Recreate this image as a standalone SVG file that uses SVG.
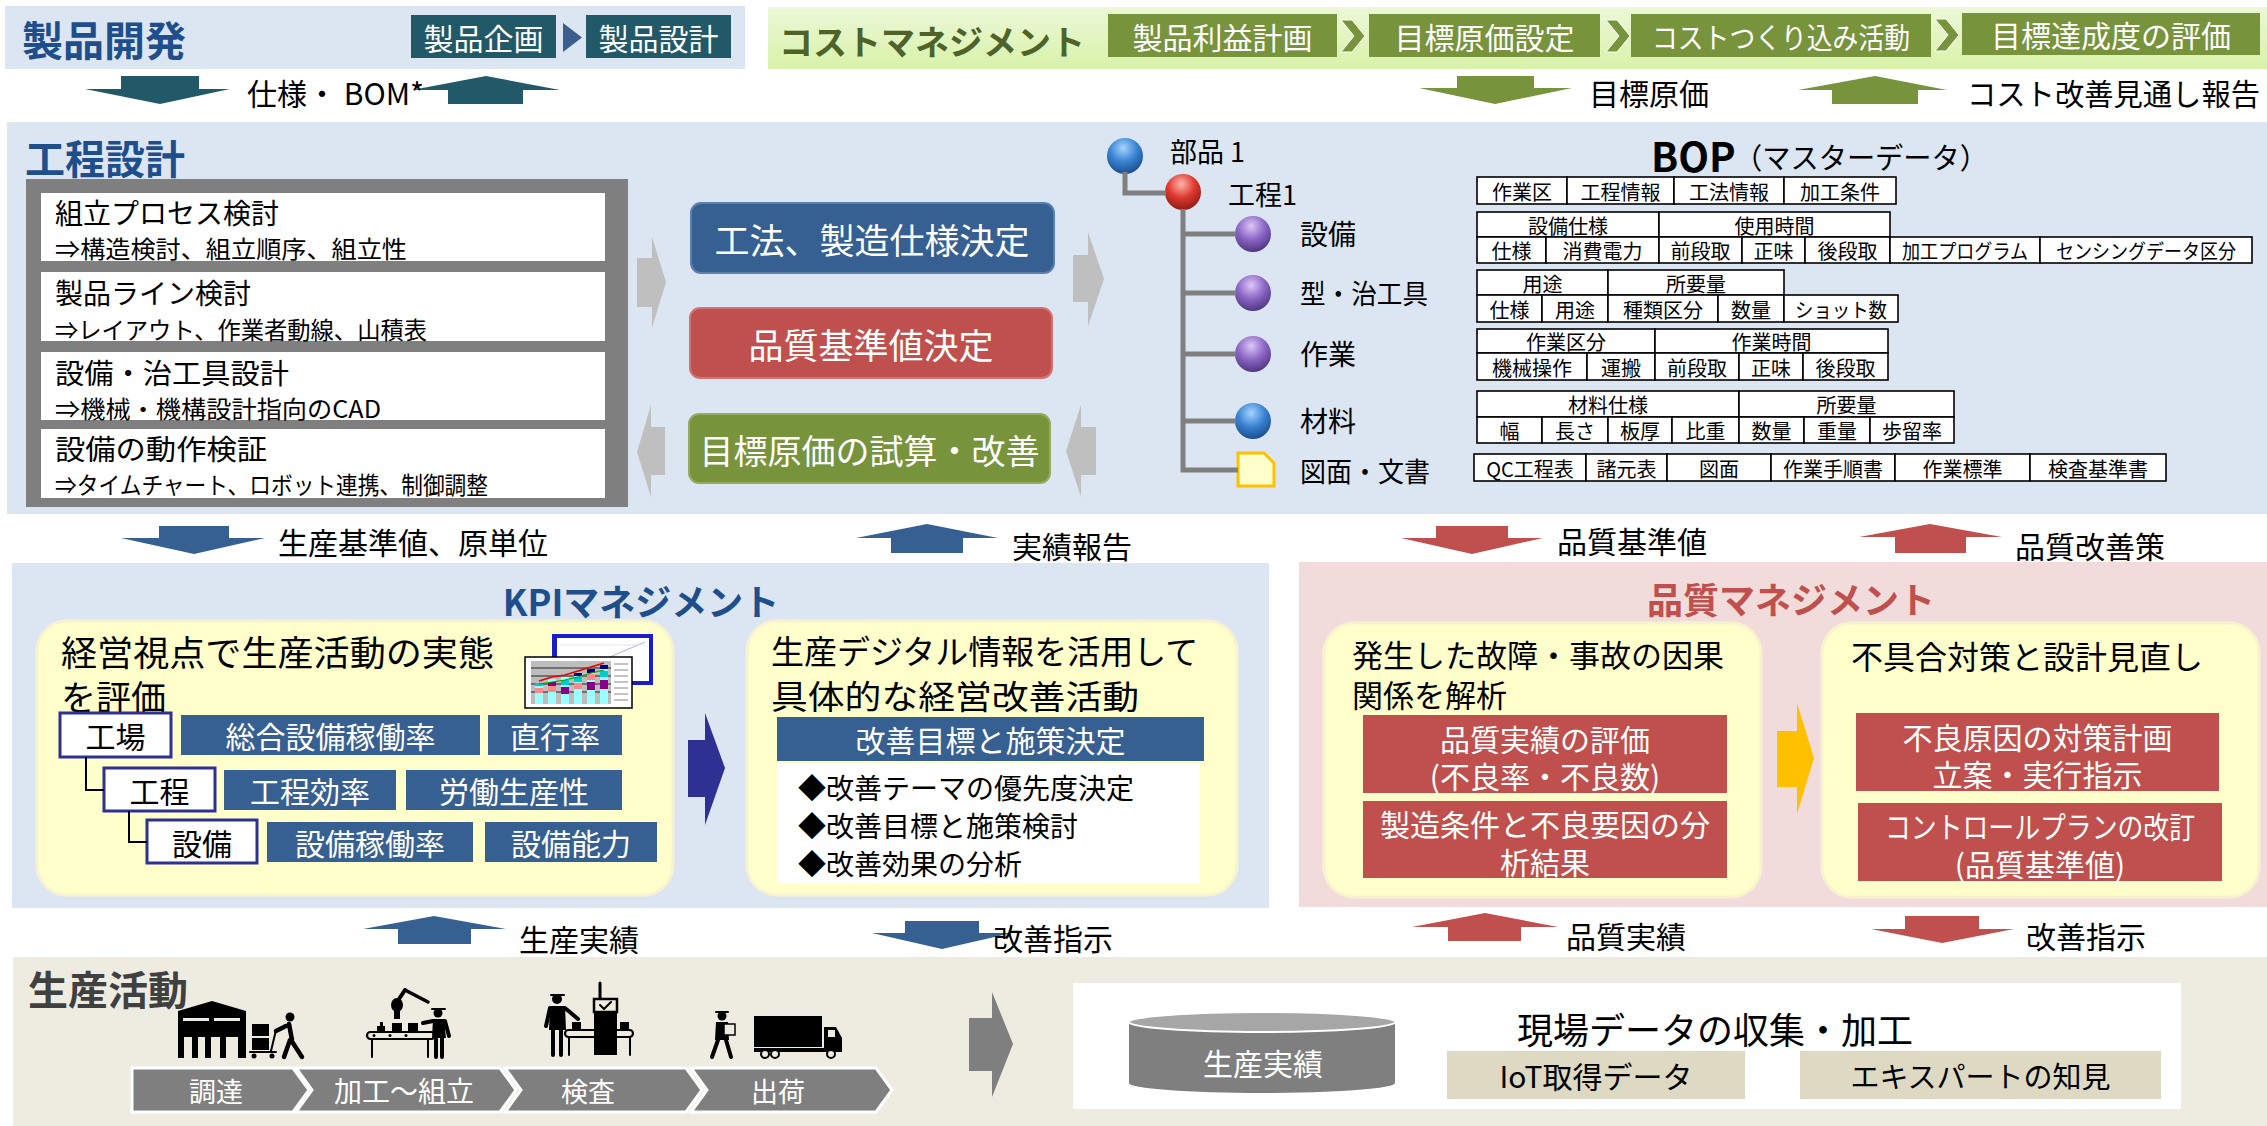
<svg xmlns="http://www.w3.org/2000/svg" width="2267" height="1126" viewBox="0 0 2267 1126">
  <defs>
    <style>
      text { font-family: "Noto Sans CJK JP", "Noto Sans", sans-serif; dominant-baseline: central; fill: #000; }
      .w { fill: #fff; }
      .mid { text-anchor: middle; }
      .b { font-weight: bold; }
      .band-blue { fill: #DCE6F2; }
      .teal { fill: #215968; }
      .blue { fill: #376092; }
      .red { fill: #C0504D; }
      .green { fill: #77933C; }
      .gray { fill: #7F7F7F; }
      .lgray { fill: #BFBFBF; }
      .yel { fill: #FFFFCC; stroke: #F7F3D0; stroke-width: 3; }
      .cell { fill: #fff; stroke: #000; stroke-width: 1.6; }
      .ct { font-size: 20px; text-anchor: middle; }
      .tree { fill: none; stroke: #7F7F7F; stroke-width: 5; }
      .hier { fill: none; stroke: #000; stroke-width: 2; }
      .lvl { fill: #fff; stroke: #2E3192; stroke-width: 3; }
      .ink { fill: #000; }
      .inks { fill: none; stroke: #000; stroke-linecap: round; stroke-linejoin: round; }
    </style>
    <linearGradient id="costGrad" x1="0" y1="0" x2="0" y2="1">
      <stop offset="0" stop-color="#ECF8D8"/>
      <stop offset="1" stop-color="#D8F2A8"/>
    </linearGradient>
    <radialGradient id="sBlue" cx="0.45" cy="0.28" r="0.75">
      <stop offset="0" stop-color="#A6D4FF"/>
      <stop offset="0.5" stop-color="#3A84D4"/>
      <stop offset="1" stop-color="#1A4A88"/>
    </radialGradient>
    <radialGradient id="sRed" cx="0.45" cy="0.28" r="0.75">
      <stop offset="0" stop-color="#FFB4AC"/>
      <stop offset="0.5" stop-color="#DE3A30"/>
      <stop offset="1" stop-color="#8A1913"/>
    </radialGradient>
    <radialGradient id="sPurple" cx="0.45" cy="0.28" r="0.75">
      <stop offset="0" stop-color="#DCC6F7"/>
      <stop offset="0.5" stop-color="#8C68C6"/>
      <stop offset="1" stop-color="#4C327C"/>
    </radialGradient>
  </defs>

  <rect width="2267" height="1126" fill="#fff"/>

  <!-- ===== 製品開発 ===== -->
  <g id="product-dev">
    <rect x="5" y="6" width="740" height="63" class="band-blue"/>
    <text x="22" y="38" font-size="41" class="b" style="fill:#1F4E8C">製品開発</text>
    <rect x="411" y="15" width="145" height="43" class="teal"/>
    <text x="483.5" y="37" font-size="30" class="w mid">製品企画</text>
    <polygon points="563,23 582,37.5 563,52" fill="#3A5F8E"/>
    <rect x="586" y="15" width="145" height="43" class="teal"/>
    <text x="658.5" y="37" font-size="30" class="w mid">製品設計</text>
  </g>

  <!-- ===== コストマネジメント ===== -->
  <g id="cost-mgmt">
    <rect x="768" y="7" width="1499" height="62" fill="url(#costGrad)"/>
    <text x="779" y="40" font-size="34" class="b" style="fill:#4F6228">コストマネジメント</text>
    <rect x="1108" y="14" width="229" height="43" class="green"/>
    <text x="1222.5" y="36" font-size="30" class="w mid">製品利益計画</text>
    <path d="M1341,20 L1352,20 L1365,36 L1352,52 L1341,52 L1354,36 Z" class="green" stroke="#fff" stroke-width="1"/>
    <rect x="1369" y="14" width="231" height="43" class="green"/>
    <text x="1484.5" y="36" font-size="30" class="w mid">目標原価設定</text>
    <path d="M1606,20 L1617,20 L1630,36 L1617,52 L1606,52 L1619,36 Z" class="green" stroke="#fff" stroke-width="1"/>
    <rect x="1631" y="14" width="300" height="43" class="green"/>
    <text x="1781" y="36" font-size="29" class="w mid" textLength="258" lengthAdjust="spacingAndGlyphs">コストつくり込み活動</text>
    <path d="M1935,19 L1946,19 L1959,35 L1946,51 L1935,51 L1948,35 Z" class="green" stroke="#fff" stroke-width="1"/>
    <rect x="1962" y="13" width="298" height="42" class="green"/>
    <text x="2111" y="34" font-size="30" class="w mid">目標達成度の評価</text>
  </g>

  <!-- ===== 工程設計 ===== -->
  <g id="process-design">
    <rect x="7" y="122" width="2260" height="392" class="band-blue"/>
    <text x="25" y="157" font-size="40" class="b" style="fill:#1F4E8C">工程設計</text>
    <rect x="26" y="179" width="602" height="328" class="gray"/>

    <g id="pd-assembly">
      <rect x="41" y="193" width="564" height="68" fill="#fff"/>
      <text x="55" y="212" font-size="28">組立プロセス検討</text>
      <text x="55" y="247" font-size="24" textLength="352" lengthAdjust="spacingAndGlyphs">⇒構造検討、組立順序、組立性</text>
    </g>
    <g id="pd-line">
      <rect x="41" y="272" width="564" height="69" fill="#fff"/>
      <text x="55" y="292" font-size="28">製品ライン検討</text>
      <text x="55" y="328" font-size="24" textLength="372" lengthAdjust="spacingAndGlyphs">⇒レイアウト、作業者動線、山積表</text>
    </g>
    <g id="pd-equipment">
      <rect x="41" y="352" width="564" height="68" fill="#fff"/>
      <text x="55" y="372" font-size="28" textLength="234" lengthAdjust="spacingAndGlyphs">設備・治工具設計</text>
      <text x="55" y="407" font-size="24" textLength="326" lengthAdjust="spacingAndGlyphs">⇒機械・機構設計指向のCAD</text>
    </g>
    <g id="pd-verify">
      <rect x="41" y="429" width="564" height="69" fill="#fff"/>
      <text x="55" y="448" font-size="28" textLength="212" lengthAdjust="spacingAndGlyphs">設備の動作検証</text>
      <text x="55" y="483" font-size="24" textLength="433" lengthAdjust="spacingAndGlyphs">⇒タイムチャート、ロボット連携、制御調整</text>
    </g>

    <g id="decide-method">
      <rect x="691" y="203" width="363" height="70" rx="10" class="blue" stroke="#5B7FAE" stroke-width="2"/>
      <text x="872" y="238" font-size="35" class="w mid">工法、製造仕様決定</text>
    </g>
    <g id="decide-quality">
      <rect x="690" y="308" width="362" height="70" rx="10" class="red" stroke="#D27572" stroke-width="2"/>
      <text x="871" y="343" font-size="35" class="w mid">品質基準値決定</text>
    </g>
    <g id="target-cost">
      <rect x="689" y="414" width="361" height="69" rx="10" class="green" stroke="#93AC60" stroke-width="2"/>
      <text x="869.5" y="449" font-size="34" class="w mid">目標原価の試算・改善</text>
    </g>
  </g>

  <!-- ===== BOP ===== -->
  <g id="bop">
    <text x="1651" y="155" font-size="40" class="b">BOP</text>
    <text x="1734" y="156" font-size="29" textLength="254" lengthAdjust="spacingAndGlyphs">（マスターデータ）</text>

    <g id="bop-part">
      <circle cx="1125" cy="156" r="18" fill="url(#sBlue)"/>
      <text x="1170" y="150" font-size="27">部品 1</text>
    </g>
    <g id="bop-process">
      <circle cx="1183" cy="192" r="18" fill="url(#sRed)"/>
      <text x="1228" y="193" font-size="27">工程1</text>
    </g>
    <g id="bop-equip">
      <circle cx="1253" cy="234" r="18" fill="url(#sPurple)"/>
      <text x="1300" y="233" font-size="28">設備</text>
    </g>
    <g id="bop-tool">
      <circle cx="1253" cy="293" r="18" fill="url(#sPurple)"/>
      <text x="1300" y="292" font-size="27" textLength="128" lengthAdjust="spacingAndGlyphs">型・治工具</text>
    </g>
    <g id="bop-work">
      <circle cx="1253" cy="354" r="18" fill="url(#sPurple)"/>
      <text x="1300" y="353" font-size="28">作業</text>
    </g>
    <g id="bop-material">
      <circle cx="1253" cy="421" r="18" fill="url(#sBlue)"/>
      <text x="1300" y="420" font-size="28">材料</text>
    </g>
    <g id="bop-docs">
      <path d="M1238,453 H1264 L1274,463 V486 H1238 Z" fill="#FFFFCC" stroke="#FFC000" stroke-width="3"/>
      <text x="1300" y="470" font-size="27" textLength="130" lengthAdjust="spacingAndGlyphs">図面・文書</text>
    </g>

    <!-- table: process attributes -->
    <g id="tbl-process">
      <rect x="1477" y="177" width="90" height="27" class="cell"/>
      <rect x="1567" y="177" width="107" height="27" class="cell"/>
      <rect x="1674" y="177" width="110" height="27" class="cell"/>
      <rect x="1784" y="177" width="112" height="27" class="cell"/>
      <text x="1522" y="191" class="ct">作業区</text>
      <text x="1620.5" y="191" class="ct">工程情報</text>
      <text x="1729" y="191" class="ct">工法情報</text>
      <text x="1840" y="191" class="ct">加工条件</text>
    </g>

    <!-- table: equipment -->
    <g id="tbl-equip">
      <rect x="1477" y="212" width="182" height="25" class="cell"/>
      <rect x="1659" y="212" width="231" height="25" class="cell"/>
      <text x="1568" y="225" class="ct">設備仕様</text>
      <text x="1774.5" y="225" class="ct">使用時間</text>
      <rect x="1477" y="237" width="69" height="26" class="cell"/>
      <rect x="1546" y="237" width="113" height="26" class="cell"/>
      <rect x="1659" y="237" width="83" height="26" class="cell"/>
      <rect x="1742" y="237" width="63" height="26" class="cell"/>
      <rect x="1805" y="237" width="85" height="26" class="cell"/>
      <rect x="1890" y="237" width="150" height="26" class="cell"/>
      <rect x="2040" y="237" width="212" height="26" class="cell"/>
      <text x="1511.5" y="250" class="ct">仕様</text>
      <text x="1602.5" y="250" class="ct">消費電力</text>
      <text x="1700.5" y="250" class="ct">前段取</text>
      <text x="1773.5" y="250" class="ct">正味</text>
      <text x="1847.5" y="250" class="ct">後段取</text>
      <text x="1965" y="250" class="ct" textLength="126" lengthAdjust="spacingAndGlyphs">加工プログラム</text>
      <text x="2146" y="250" class="ct" textLength="180" lengthAdjust="spacingAndGlyphs">センシングデータ区分</text>
    </g>

    <!-- table: tooling -->
    <g id="tbl-tool">
      <rect x="1477" y="270" width="131" height="25" class="cell"/>
      <rect x="1608" y="270" width="176" height="25" class="cell"/>
      <text x="1542.5" y="283" class="ct">用途</text>
      <text x="1696" y="283" class="ct">所要量</text>
      <rect x="1477" y="295" width="65" height="27" class="cell"/>
      <rect x="1542" y="295" width="66" height="27" class="cell"/>
      <rect x="1608" y="295" width="110" height="27" class="cell"/>
      <rect x="1718" y="295" width="66" height="27" class="cell"/>
      <rect x="1784" y="295" width="114" height="27" class="cell"/>
      <text x="1509.5" y="309" class="ct">仕様</text>
      <text x="1575" y="309" class="ct">用途</text>
      <text x="1663" y="309" class="ct">種類区分</text>
      <text x="1751" y="309" class="ct">数量</text>
      <text x="1841" y="309" class="ct" textLength="92" lengthAdjust="spacingAndGlyphs">ショット数</text>
    </g>

    <!-- table: work -->
    <g id="tbl-work">
      <rect x="1477" y="329" width="178" height="24" class="cell"/>
      <rect x="1655" y="329" width="233" height="24" class="cell"/>
      <text x="1566" y="341" class="ct">作業区分</text>
      <text x="1771.5" y="341" class="ct">作業時間</text>
      <rect x="1477" y="353" width="110" height="27" class="cell"/>
      <rect x="1587" y="353" width="68" height="27" class="cell"/>
      <rect x="1655" y="353" width="84" height="27" class="cell"/>
      <rect x="1739" y="353" width="64" height="27" class="cell"/>
      <rect x="1803" y="353" width="85" height="27" class="cell"/>
      <text x="1532" y="367" class="ct">機械操作</text>
      <text x="1621" y="367" class="ct">運搬</text>
      <text x="1697" y="367" class="ct">前段取</text>
      <text x="1771" y="367" class="ct">正味</text>
      <text x="1845.5" y="367" class="ct">後段取</text>
    </g>

    <!-- table: material -->
    <g id="tbl-material">
      <rect x="1477" y="391" width="262" height="26" class="cell"/>
      <rect x="1739" y="391" width="215" height="26" class="cell"/>
      <text x="1608" y="404" class="ct">材料仕様</text>
      <text x="1846.5" y="404" class="ct">所要量</text>
      <rect x="1477" y="417" width="65" height="26" class="cell"/>
      <rect x="1542" y="417" width="66" height="26" class="cell"/>
      <rect x="1608" y="417" width="64" height="26" class="cell"/>
      <rect x="1672" y="417" width="67" height="26" class="cell"/>
      <rect x="1739" y="417" width="65" height="26" class="cell"/>
      <rect x="1804" y="417" width="66" height="26" class="cell"/>
      <rect x="1870" y="417" width="84" height="26" class="cell"/>
      <text x="1509.5" y="430" class="ct">幅</text>
      <text x="1575" y="430" class="ct">長さ</text>
      <text x="1640" y="430" class="ct">板厚</text>
      <text x="1705.5" y="430" class="ct">比重</text>
      <text x="1771.5" y="430" class="ct">数量</text>
      <text x="1837" y="430" class="ct">重量</text>
      <text x="1912" y="430" class="ct">歩留率</text>
    </g>

    <!-- table: documents -->
    <g id="tbl-docs">
      <rect x="1474" y="454" width="112" height="27" class="cell"/>
      <rect x="1586" y="454" width="81" height="27" class="cell"/>
      <rect x="1667" y="454" width="104" height="27" class="cell"/>
      <rect x="1771" y="454" width="124" height="27" class="cell"/>
      <rect x="1895" y="454" width="135" height="27" class="cell"/>
      <rect x="2030" y="454" width="136" height="27" class="cell"/>
      <text x="1530" y="468" class="ct">QC工程表</text>
      <text x="1626.5" y="468" class="ct">諸元表</text>
      <text x="1719" y="468" class="ct">図面</text>
      <text x="1833" y="468" class="ct">作業手順書</text>
      <text x="1962.5" y="468" class="ct">作業標準</text>
      <text x="2098" y="468" class="ct">検査基準書</text>
    </g>
  </g>

  <!-- ===== KPIマネジメント ===== -->
  <g id="kpi">
    <rect x="12" y="563" width="1257" height="345" class="band-blue"/>
    <text x="641" y="600" font-size="36" class="b mid" style="fill:#1F4E8C">KPIマネジメント</text>

    <g id="kpi-evaluate">
      <rect x="37" y="621" width="636" height="274" rx="30" class="yel"/>
      <text x="61" y="650" font-size="35" textLength="433" lengthAdjust="spacingAndGlyphs">経営視点で生産活動の実態</text>
      <text x="61" y="695" font-size="35">を評価</text>

      <!-- small report chart -->
      <g id="kpi-chart">
        <rect x="552" y="634" width="101" height="51" fill="#1C1CC8"/>
        <rect x="557" y="638" width="92" height="43" fill="#fff"/>
        <line x1="565" y1="676" x2="645" y2="642" stroke="#9A9AE0" stroke-width="0.8"/>
        <line x1="560" y1="645" x2="645" y2="645" stroke="#DDD" stroke-width="0.8"/>
        <rect x="525" y="657" width="107" height="51" fill="#fff" stroke="#000" stroke-width="1.5"/>
        <rect x="531" y="661" width="80" height="43" fill="#BDBDBD"/>
        <g stroke="#000" stroke-width="0.8">
          <line x1="531" y1="668" x2="611" y2="668"/>
          <line x1="531" y1="676" x2="611" y2="676"/>
          <line x1="531" y1="684" x2="611" y2="684"/>
          <line x1="531" y1="692" x2="611" y2="692"/>
        </g>
        <g>
          <rect x="535" y="683" width="8" height="21" fill="#9FF"/>
          <rect x="535" y="688" width="8" height="5" fill="#F88"/>
          <rect x="535" y="683" width="8" height="3" fill="#0CC"/>
          <rect x="548" y="679" width="8" height="25" fill="#9FF"/>
          <rect x="548" y="686" width="8" height="6" fill="#F88"/>
          <rect x="548" y="682" width="8" height="4" fill="#808"/>
          <rect x="561" y="677" width="8" height="27" fill="#9FF"/>
          <rect x="561" y="687" width="8" height="7" fill="#808"/>
          <rect x="561" y="680" width="8" height="5" fill="#0CC"/>
          <rect x="574" y="673" width="8" height="31" fill="#9FF"/>
          <rect x="574" y="683" width="8" height="6" fill="#F88"/>
          <rect x="574" y="677" width="8" height="5" fill="#0CC"/>
          <rect x="574" y="673" width="8" height="3" fill="#008"/>
          <rect x="587" y="669" width="8" height="35" fill="#9FF"/>
          <rect x="587" y="682" width="8" height="8" fill="#808"/>
          <rect x="587" y="674" width="8" height="6" fill="#F88"/>
          <rect x="587" y="669" width="8" height="4" fill="#008"/>
          <rect x="600" y="665" width="8" height="39" fill="#9FF"/>
          <rect x="600" y="680" width="8" height="9" fill="#808"/>
          <rect x="600" y="671" width="8" height="6" fill="#0CC"/>
          <rect x="600" y="665" width="8" height="4" fill="#008"/>
        </g>
        <polyline points="539,681 552,677 565,675 578,671 591,667 604,663" fill="none" stroke="#E00" stroke-width="1.5"/>
        <polyline points="539,684 552,682 565,680 578,677 591,673 604,670" fill="none" stroke="#0A0" stroke-width="1.2"/>
        <g stroke="#555" stroke-width="0.7">
          <line x1="614" y1="664" x2="628" y2="664"/>
          <line x1="614" y1="670" x2="628" y2="670"/>
          <line x1="614" y1="676" x2="628" y2="676"/>
          <line x1="614" y1="682" x2="628" y2="682"/>
          <line x1="614" y1="688" x2="628" y2="688"/>
          <line x1="614" y1="694" x2="628" y2="694"/>
          <line x1="614" y1="700" x2="628" y2="700"/>
        </g>
      </g>

      <g id="kpi-factory">
        <rect x="60" y="713" width="111" height="44" class="lvl"/>
        <text x="115.5" y="735" font-size="30" class="mid">工場</text>
        <rect x="181" y="715" width="299" height="40" class="blue"/>
        <text x="330.5" y="735" font-size="30" class="w mid">総合設備稼働率</text>
        <rect x="488" y="715" width="134" height="40" class="blue"/>
        <text x="555" y="735" font-size="30" class="w mid">直行率</text>
      </g>
      <g id="kpi-process">
        <rect x="104" y="768" width="111" height="43" class="lvl"/>
        <text x="159.5" y="790" font-size="30" class="mid">工程</text>
        <rect x="224" y="770" width="172" height="40" class="blue"/>
        <text x="310" y="790" font-size="30" class="w mid">工程効率</text>
        <rect x="406" y="770" width="216" height="40" class="blue"/>
        <text x="514" y="790" font-size="30" class="w mid">労働生産性</text>
      </g>
      <g id="kpi-equipment">
        <rect x="147" y="820" width="110" height="43" class="lvl"/>
        <text x="202" y="842" font-size="30" class="mid">設備</text>
        <rect x="267" y="822" width="206" height="40" class="blue"/>
        <text x="370" y="842" font-size="30" class="w mid">設備稼働率</text>
        <rect x="485" y="822" width="172" height="40" class="blue"/>
        <text x="571" y="842" font-size="30" class="w mid">設備能力</text>
      </g>
    </g>

    <g id="kpi-improve">
      <rect x="747" y="621" width="490" height="274" rx="30" class="yel"/>
      <text x="771" y="650" font-size="33">生産デジタル情報を活用して</text>
      <text x="771" y="695" font-size="33" textLength="368" lengthAdjust="spacingAndGlyphs">具体的な経営改善活動</text>
      <rect x="777" y="717" width="427" height="44" class="blue"/>
      <text x="990.5" y="739" font-size="30" class="w mid">改善目標と施策決定</text>
      <rect x="777" y="763" width="423" height="120" fill="#fff"/>
      <text x="798" y="787" font-size="28">◆改善テーマの優先度決定</text>
      <text x="798" y="825" font-size="28">◆改善目標と施策検討</text>
      <text x="798" y="863" font-size="28">◆改善効果の分析</text>
    </g>
  </g>

  <!-- ===== 品質マネジメント ===== -->
  <g id="quality">
    <rect x="1299" y="562" width="968" height="345" fill="#F2DCDB"/>
    <text x="1791" y="598" font-size="36" class="b mid" style="fill:#C0504D">品質マネジメント</text>

    <g id="q-analysis">
      <rect x="1324" y="623" width="437" height="274" rx="30" class="yel"/>
      <text x="1352" y="653" font-size="31">発生した故障・事故の因果</text>
      <text x="1352" y="693" font-size="31">関係を解析</text>
      <rect x="1363" y="715" width="364" height="78" class="red"/>
      <text x="1545" y="738" font-size="30" class="w mid">品質実績の評価</text>
      <text x="1545" y="775" font-size="30" class="w mid">(不良率・不良数)</text>
      <rect x="1363" y="801" width="364" height="77" class="red"/>
      <text x="1545" y="823" font-size="30" class="w mid">製造条件と不良要因の分</text>
      <text x="1545" y="861" font-size="30" class="w mid">析結果</text>
    </g>

    <g id="q-countermeasure">
      <rect x="1822" y="623" width="437" height="274" rx="30" class="yel"/>
      <text x="1851" y="655" font-size="32">不具合対策と設計見直し</text>
      <rect x="1856" y="713" width="363" height="78" class="red"/>
      <text x="2037.5" y="736" font-size="30" class="w mid">不良原因の対策計画</text>
      <text x="2037.5" y="773" font-size="30" class="w mid">立案・実行指示</text>
      <rect x="1858" y="803" width="364" height="78" class="red"/>
      <text x="2040" y="825" font-size="30" class="w mid" textLength="310" lengthAdjust="spacingAndGlyphs">コントロールプランの改訂</text>
      <text x="2040" y="863" font-size="30" class="w mid">(品質基準値)</text>
    </g>
  </g>

  <!-- ===== 生産活動 ===== -->
  <g id="production">
    <rect x="13" y="957" width="2254" height="169" fill="#EEECE1"/>
    <text x="28" y="988" font-size="40" class="b" style="fill:#404040">生産活動</text>

    <!-- procurement pictogram -->
    <g id="icon-procure">
      <path d="M178,1011 L212,1001 L246,1011 V1037 H178 Z" class="ink"/>
      <rect x="183" y="1018" width="26" height="3" fill="#EEECE1"/>
      <rect x="214" y="1018" width="26" height="3" fill="#EEECE1"/>
      <rect x="178" y="1036" width="6" height="22" class="ink"/>
      <rect x="192" y="1036" width="6" height="22" class="ink"/>
      <rect x="205" y="1036" width="6" height="22" class="ink"/>
      <rect x="220" y="1036" width="6" height="22" class="ink"/>
      <rect x="238" y="1036" width="8" height="22" class="ink"/>
      <rect x="252" y="1024" width="17" height="12" class="ink"/>
      <rect x="252" y="1038" width="17" height="12" class="ink"/>
      <path d="M250,1052 H276 M271,1051 L276,1030" class="inks" stroke-width="2"/>
      <circle cx="254" cy="1056" r="2.5" class="ink"/>
      <circle cx="272" cy="1056" r="2.5" class="ink"/>
      <circle cx="290" cy="1017" r="4.5" class="ink"/>
      <path d="M289,1024 L292,1040 M276,1031 L286,1026 M290,1040 L284,1057 M291,1040 L302,1057" class="inks" stroke-width="4.5"/>
    </g>

    <!-- processing / assembly pictogram -->
    <g id="icon-assembly">
      <path d="M405,990 L428,1002" class="inks" stroke-width="3.5"/>
      <path d="M405,990 L399,999" class="inks" stroke-width="4"/>
      <ellipse cx="397" cy="1005" rx="6" ry="7" class="ink"/>
      <rect x="394" y="1010" width="6" height="9" class="ink"/>
      <rect x="377" y="1026" width="8" height="7" class="ink"/>
      <rect x="380" y="1022" width="3" height="4" class="ink"/>
      <rect x="392" y="1023" width="10" height="10" class="ink"/>
      <rect x="408" y="1023" width="10" height="10" class="ink"/>
      <rect x="367" y="1032" width="68" height="7" rx="3.5" fill="#EEECE1" stroke="#000" stroke-width="2.2"/>
      <circle cx="374" cy="1035.5" r="1.5" class="ink"/>
      <circle cx="390" cy="1035.5" r="1.5" class="ink"/>
      <circle cx="406" cy="1035.5" r="1.5" class="ink"/>
      <path d="M372,1039 V1057 M428,1039 V1057" class="inks" stroke-width="2"/>
      <circle cx="438" cy="1013" r="4.5" class="ink"/>
      <path d="M432,1009 H445" class="inks" stroke-width="2"/>
      <path d="M433,1019 H444 L446,1038 H432 Z" class="ink"/>
      <path d="M436,1038 V1057 M442,1038 V1057 M433,1021 L423,1023 M445,1021 L449,1036" class="inks" stroke-width="4"/>
    </g>

    <!-- inspection pictogram -->
    <g id="icon-inspect">
      <circle cx="557" cy="999" r="5" class="ink"/>
      <path d="M551,995 H564" class="inks" stroke-width="2"/>
      <path d="M550,1006 H565 L566,1030 H549 Z" class="ink"/>
      <path d="M553,1030 V1055 M561,1030 V1055 M550,1008 L546,1026 M565,1008 L578,1019" class="inks" stroke-width="4"/>
      <path d="M600,983 V999" class="inks" stroke-width="3"/>
      <rect x="594" y="999" width="23" height="13" fill="#EEECE1" stroke="#000" stroke-width="2.5"/>
      <path d="M600,1005 L604,1009 L611,1002" class="inks" stroke-width="2"/>
      <rect x="594" y="1012" width="23" height="43" class="ink"/>
      <rect x="565" y="1030" width="68" height="7" rx="3.5" fill="none" stroke="#000" stroke-width="2.2"/>
      <rect x="572" y="1022" width="9" height="8" class="ink"/>
      <rect x="620" y="1022" width="9" height="8" class="ink"/>
      <path d="M569,1037 V1055 M630,1037 V1055" class="inks" stroke-width="2"/>
    </g>

    <!-- shipping pictogram -->
    <g id="icon-ship">
      <circle cx="722" cy="1016" r="4.5" class="ink"/>
      <path d="M716,1012 H728" class="inks" stroke-width="2"/>
      <path d="M716,1022 H728 L729,1040 H715 Z" class="ink"/>
      <rect x="724" y="1024" width="11" height="11" fill="#EEECE1" stroke="#000" stroke-width="1.5"/>
      <path d="M718,1040 L712,1057 M726,1040 L731,1057" class="inks" stroke-width="4"/>
      <rect x="754" y="1016" width="68" height="31" class="ink"/>
      <path d="M824,1027 H836 L842,1038 V1052 H824 Z" class="ink"/>
      <rect x="828" y="1030" width="7" height="7" fill="#EEECE1"/>
      <rect x="754" y="1048" width="88" height="4" class="ink"/>
      <circle cx="765" cy="1054" r="4" fill="#EEECE1" stroke="#000" stroke-width="2"/>
      <circle cx="775" cy="1054" r="4" fill="#EEECE1" stroke="#000" stroke-width="2"/>
      <circle cx="831" cy="1054" r="4" fill="#EEECE1" stroke="#000" stroke-width="2"/>
    </g>

    <!-- process chevrons -->
    <g id="chevrons" stroke="#fff" stroke-width="3">
      <path d="M132,1068 H293 L309,1090 L293,1112 H132 Z" class="gray"/>
      <path d="M296,1068 H500 L516,1090 L500,1112 H296 L312,1090 Z" class="gray"/>
      <path d="M505,1068 H686 L702,1090 L686,1112 H505 L521,1090 Z" class="gray"/>
      <path d="M691,1068 H876 L892,1090 L876,1112 H691 L707,1090 Z" class="gray"/>
    </g>
    <text x="216" y="1090" font-size="27" class="w mid">調達</text>
    <text x="404" y="1090" font-size="28" class="w mid">加工～組立</text>
    <text x="588" y="1090" font-size="27" class="w mid">検査</text>
    <text x="778" y="1090" font-size="27" class="w mid">出荷</text>

    <g id="field-data">
      <rect x="1073" y="983" width="1108" height="126" fill="#fff"/>
      <path d="M1129,1022 V1083 A133,10 0 0 0 1395,1083 V1022 Z" class="gray"/>
      <ellipse cx="1262" cy="1022" rx="133" ry="10" fill="#A6A6A6" stroke="#fff" stroke-width="2"/>
      <text x="1263" y="1062" font-size="30" class="w mid">生産実績</text>
      <text x="1517" y="1028" font-size="36">現場データの収集・加工</text>
      <rect x="1447" y="1051" width="298" height="48" fill="#DDD9C3"/>
      <text x="1596" y="1075" font-size="30" class="mid">IoT取得データ</text>
      <rect x="1800" y="1051" width="361" height="48" fill="#DDD9C3"/>
      <text x="1980.5" y="1075" font-size="29" class="mid">エキスパートの知見</text>
    </g>
  </g>

  <!-- ===== connectors: block arrows, tree lines, hierarchy lines ===== -->
  <g id="connectors">
    <!-- 製品開発 <-> 工程設計 -->
    <polygon points="121,76 199,76 199,89 230,89 160,104 85,89 121,89" class="teal"/>
    <polygon points="486,76 560,90 523,90 523,104 448,104 448,90 412,90" class="teal"/>
    <text x="247" y="92" font-size="30">仕様・ BOM*</text>

    <!-- コストマネジメント <-> 工程設計 -->
    <polygon points="1457,76 1534,76 1534,88 1572,88 1495,104 1419,88 1457,88" class="green"/>
    <text x="1589" y="92" font-size="30">目標原価</text>
    <polygon points="1875,76 1947,90 1918,90 1918,104 1832,104 1832,90 1798,90" class="green"/>
    <text x="1967" y="92" font-size="30" textLength="293" lengthAdjust="spacingAndGlyphs">コスト改善見通し報告</text>

    <!-- inner process-design arrows -->
    <polygon points="637,258 652,258 652,237 666,282 652,328 652,307 637,307" class="lgray"/>
    <polygon points="637,452 651,405 651,427 665,427 665,475 651,475 651,497" class="lgray"/>
    <polygon points="1073,255 1088,255 1088,232 1104,279 1088,326 1088,302 1073,302" class="lgray"/>
    <polygon points="1066,451 1081,405 1081,427 1096,427 1096,475 1081,475 1081,497" class="lgray"/>

    <!-- BOP tree -->
    <path d="M1125,172 V193 H1166" class="tree"/>
    <path d="M1183,209 V470 H1238" class="tree"/>
    <path d="M1183,234 H1236 M1183,293 H1236 M1183,354 H1236 M1183,421 H1236" class="tree"/>

    <!-- 工程設計 <-> KPI / 品質 -->
    <polygon points="159,526 229,526 229,538 265,538 194,554 121,538 159,538" class="blue"/>
    <text x="278" y="541" font-size="30">生産基準値、原単位</text>
    <polygon points="927,524 998,538 963,538 963,553 891,553 891,538 856,538" class="blue"/>
    <text x="1012" y="545" font-size="30">実績報告</text>
    <polygon points="1436,526 1508,526 1508,538 1543,538 1472,554 1401,538 1436,538" class="red"/>
    <text x="1557" y="540" font-size="30">品質基準値</text>
    <polygon points="1930,524 2002,537 1966,537 1966,553 1895,553 1895,537 1859,537" class="red"/>
    <text x="2015" y="545" font-size="30">品質改善策</text>

    <!-- KPI hierarchy -->
    <path d="M86,757 V790 H104" class="hier"/>
    <path d="M129,811 V842 H147" class="hier"/>
    <polygon points="688,740 705,740 705,713 725,768 705,825 705,797 688,797" fill="#2E3192"/>

    <!-- 品質 analysis -> countermeasure -->
    <polygon points="1777,731 1797,731 1797,703 1814,758 1797,814 1797,787 1777,787" fill="#FFC000"/>

    <!-- 生産活動 <-> KPI / 品質 -->
    <polygon points="434,916 506,929 471,929 471,944 398,944 398,929 363,929" class="blue"/>
    <text x="519" y="938" font-size="30">生産実績</text>
    <polygon points="905,921 979,921 979,933 1012,933 942,949 872,933 905,933" class="blue"/>
    <text x="993" y="937" font-size="30">改善指示</text>
    <polygon points="1485,913 1558,927 1521,927 1521,941 1448,941 1448,927 1412,927" class="red"/>
    <text x="1566" y="935" font-size="30">品質実績</text>
    <polygon points="1905,916 1979,916 1979,929 2014,929 1942,943 1871,929 1905,929" class="red"/>
    <text x="2026" y="935" font-size="30">改善指示</text>

    <!-- production -> field data -->
    <polygon points="969,1018 992,1018 992,992 1013,1044 992,1097 992,1071 969,1071" class="gray"/>
  </g>
</svg>
